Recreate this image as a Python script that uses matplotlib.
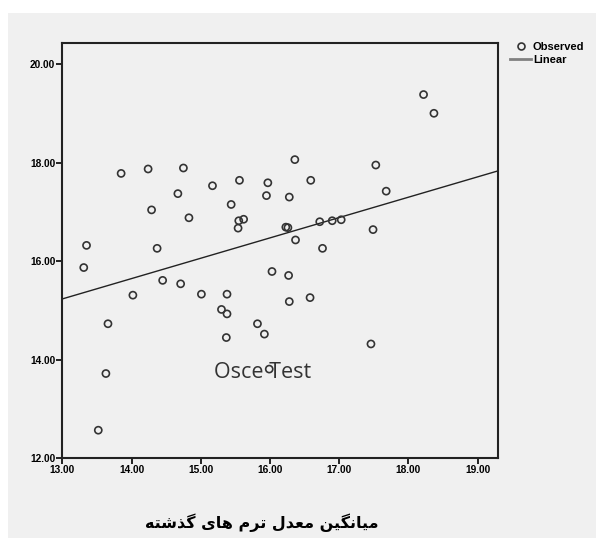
import numpy as np
import matplotlib
matplotlib.use("Agg")
import matplotlib.pyplot as plt
from matplotlib.patches import Rectangle
from matplotlib.lines import Line2D

# previous terms average (x) vs OSCE test score (y)
prev_avg = [13.31, 13.35, 13.52, 13.63, 13.66, 13.85, 14.02, 14.24, 14.29, 14.37,
            14.45, 14.67, 14.71, 14.75, 14.83, 15.01, 15.17, 15.30, 15.37, 15.38,
            15.38, 15.44, 15.54, 15.55, 15.56, 15.62, 15.82, 15.92, 15.95, 15.97,
            15.99, 16.03, 16.23, 16.26, 16.27, 16.28, 16.28, 16.36, 16.37, 16.58,
            16.59, 16.72, 16.76, 16.90, 17.03, 17.46, 17.49, 17.53, 17.68, 18.22,
            18.37]
osce = [15.87, 16.32, 12.57, 13.72, 14.73, 17.78, 15.31, 17.87, 17.04, 16.26,
        15.61, 17.37, 15.54, 17.89, 16.88, 15.33, 17.53, 15.02, 14.45, 15.33,
        14.93, 17.15, 16.67, 16.82, 17.64, 16.85, 14.73, 14.52, 17.33, 17.59,
        13.81, 15.79, 16.69, 16.68, 15.71, 17.30, 15.18, 18.06, 16.43, 15.26,
        17.64, 16.80, 16.26, 16.82, 16.84, 14.32, 16.64, 17.95, 17.42, 19.38,
        19.00]

x_ticks = [13, 14, 15, 16, 17, 18, 19]
y_ticks = [12, 14, 16, 18, 20]
x_title = "میانگین معدل ترم های گذشته"
inner_label = "Osce Test"

# simple Arabic/Persian shaping (matplotlib has no complex text layout)
FORMS = {
    "ا": ("\uFE8D", "\uFE8E", None, None),
    "ت": ("\uFE95", "\uFE96", "\uFE97", "\uFE98"),
    "د": ("\uFEA9", "\uFEAA", None, None),
    "ذ": ("\uFEAB", "\uFEAC", None, None),
    "ر": ("\uFEAD", "\uFEAE", None, None),
    "ش": ("\uFEB5", "\uFEB6", "\uFEB7", "\uFEB8"),
    "ع": ("\uFEC9", "\uFECA", "\uFECB", "\uFECC"),
    "ل": ("\uFEDD", "\uFEDE", "\uFEDF", "\uFEE0"),
    "م": ("\uFEE1", "\uFEE2", "\uFEE3", "\uFEE4"),
    "ن": ("\uFEE5", "\uFEE6", "\uFEE7", "\uFEE8"),
    "ه": ("\uFEE9", "\uFEEA", "\uFEEB", "\uFEEC"),
    "ی": ("\uFBFC", "\uFBFD", "\uFBFE", "\uFBFF"),
    "گ": ("\uFB92", "\uFB93", "\uFB94", "\uFB95"),
}


def dual(ch):
    return ch in FORMS and FORMS[ch][2] is not None


def shape(text):
    out = []
    for i, ch in enumerate(text):
        if ch not in FORMS:
            out.append(ch)
            continue
        prev_j = i > 0 and dual(text[i - 1])
        next_j = i + 1 < len(text) and text[i + 1] in FORMS and dual(ch)
        iso, fin, ini, med = FORMS[ch]
        if prev_j and next_j:
            out.append(med)
        elif prev_j:
            out.append(fin)
        elif next_j:
            out.append(ini)
        else:
            out.append(iso)
    return "".join(out)[::-1]


plt.rcParams["font.family"] = ["Liberation Sans", "DejaVu Sans"]
bg = "#f0f0f0"

fig = plt.figure(figsize=(5.96, 5.38), dpi=100)
fig.patch.set_facecolor("white")
fig.patches.append(Rectangle((8 / 596, 0), 1, 1 - 13 / 538, transform=fig.transFigure,
                             facecolor=bg, edgecolor="none", zorder=-10))

ax = fig.add_axes([62.3 / 596, 1 - 458.3 / 538, 436 / 596, 415 / 538])
ax.set_facecolor(bg)

ax.scatter(prev_avg, osce, s=26, facecolors="none", edgecolors="#333333",
           linewidths=1.2, zorder=3)

xlim = (13, 19.3)
slope, intercept = np.polyfit(prev_avg, osce, 1)
xs = np.array(xlim)
ax.plot(xs, intercept + slope * xs, color="#222222", lw=1.0, zorder=2)

ax.set_xlim(*xlim)
ax.set_ylim(12, 20.42)
ax.set_xticks(x_ticks, [f"{v:.2f}" for v in x_ticks])
ax.set_yticks(y_ticks, [f"{v:.2f}" for v in y_ticks])
ax.tick_params(direction="out", length=4, width=1.2, labelsize=7.3, pad=1)
for lab in ax.get_xticklabels() + ax.get_yticklabels():
    lab.set_fontweight("bold")
for sp in ax.spines.values():
    sp.set_linewidth(1.5)
    sp.set_color("#222222")

ax.text(15.89, 13.75, inner_label, fontsize=15.5, color="#333333",
        family=["Open Sans", "DejaVu Sans"], ha="center", va="center", zorder=4)

fig.text(262 / 596, 1 - 523 / 538, shape(x_title), fontsize=11.5, fontweight="bold",
         family=["DejaVu Sans"], ha="center", va="center")

handles = [
    Line2D([], [], marker="o", ls="none", mfc="none", mec="#333333", mew=1.2, ms=5),
    Line2D([], [], color="#808080", lw=2),
]
leg = fig.legend(handles, ["Observed", "Linear"], loc="upper left",
                 bbox_to_anchor=(510 / 596, 1 - 42 / 538), frameon=False,
                 prop={"size": 8, "weight": "bold"}, handlelength=1.9,
                 handletextpad=0.15, labelspacing=0.25, borderpad=0, borderaxespad=0)

fig.savefig("out.png", dpi=100, facecolor=fig.get_facecolor())
